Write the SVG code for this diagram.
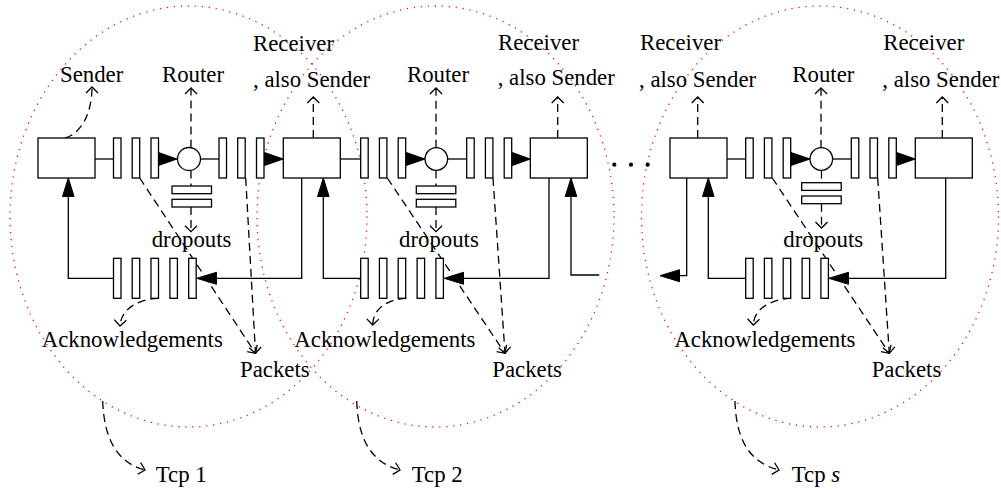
<svg xmlns="http://www.w3.org/2000/svg" width="1001" height="490" viewBox="0 0 1001 490">
  <defs>
    <style>
      .box { fill: #fff; stroke: #000; stroke-width: 1.3; }
      .slot { fill: #fff; stroke: #000; stroke-width: 1.3; }
      .ln { fill: none; stroke: #000; stroke-width: 1.3; }
      .dash { fill: none; stroke: #000; stroke-width: 1.3; stroke-dasharray: 8 5; marker-end: url(#open); }
      .dashplain { fill: none; stroke: #000; stroke-width: 1.3; stroke-dasharray: 8 5; }
      .head { fill: #000; stroke: #000; stroke-width: 1; }
      .scope { fill: none; stroke: #ff0000; stroke-width: 1.3; stroke-dasharray: 1.2 5.8; }
      text { font-family: "Liberation Serif", "Times New Roman", serif; font-size: 22.8px; fill: #000; }
    </style>
    <marker id="open" markerUnits="userSpaceOnUse" markerWidth="12" markerHeight="14" refX="8" refY="6" orient="auto" overflow="visible">
      <path d="M2,0 L8,6 L2,12" fill="none" stroke="#000" stroke-width="1.3" stroke-dasharray="none"/>
    </marker>
    <!-- queue of three slots, 40 high -->
    <g id="q3">
      <rect class="slot" x="0" y="0" width="7.5" height="40"/>
      <rect class="slot" x="18.7" y="0" width="7.5" height="40"/>
      <rect class="slot" x="37.5" y="0" width="7.5" height="40"/>
    </g>
    <!-- acknowledgement queue of five slots -->
    <g id="q5">
      <rect class="slot" x="0" y="0" width="7.5" height="40"/>
      <rect class="slot" x="18.7" y="0" width="7.5" height="40"/>
      <rect class="slot" x="37.5" y="0" width="7.5" height="40"/>
      <rect class="slot" x="56.4" y="0" width="7.5" height="40"/>
      <rect class="slot" x="75.2" y="0" width="7.5" height="40"/>
    </g>
    <!-- dropout buffer -->
    <g id="drop">
      <rect class="slot" x="0" y="0" width="39.5" height="7.7"/>
      <rect class="slot" x="0" y="13.3" width="39.5" height="7.7"/>
    </g>
  </defs>

  <rect x="0" y="0" width="1001" height="490" fill="#fff"/>

  <!-- TCP scopes -->
  <g id="scopes">
    <ellipse class="scope" cx="188.5" cy="216.5" rx="178.5" ry="210.5"/>
    <ellipse class="scope" cx="435.5" cy="216.5" rx="178.5" ry="210.5"/>
    <ellipse class="scope" cx="820" cy="216.5" rx="178.5" ry="210.5"/>
  </g>

  <!-- connectors -->
  <g id="connectors">
    <!-- forward path, first link -->
    <line class="ln" x1="95" y1="159" x2="113.7" y2="159"/>
    <path class="head" d="M158.5,152.5 L177,159 L158.5,165.5 Z"/>
    <line class="ln" x1="200.5" y1="159" x2="219" y2="159"/>
    <path class="head" d="M264.5,152.5 L283.3,159 L264.5,165.5 Z"/>
    <!-- forward path, second link -->
    <line class="ln" x1="340.3" y1="159" x2="360.7" y2="159"/>
    <path class="head" d="M406.3,152.5 L425,159 L406.3,165.5 Z"/>
    <line class="ln" x1="447.6" y1="159" x2="466.7" y2="159"/>
    <path class="head" d="M512.3,152.5 L530.3,159 L512.3,165.5 Z"/>
    <!-- forward path, last link -->
    <line class="ln" x1="727" y1="159" x2="745.7" y2="159"/>
    <path class="head" d="M791,152.5 L810,159 L791,165.5 Z"/>
    <line class="ln" x1="832.6" y1="159" x2="851.3" y2="159"/>
    <path class="head" d="M896.7,152.5 L915.3,159 L896.7,165.5 Z"/>

    <!-- acknowledgement returns -->
    <polyline class="ln" points="113.7,278.3 68.3,278.3 68.3,196"/>
    <path class="head" d="M62.5,196.5 L68.3,178 L74.1,196.5 Z"/>
    <polyline class="ln" points="301.7,178 301.7,278.3 216,278.3"/>
    <path class="head" d="M216.5,272.3 L196.7,278.3 L216.5,284.3 Z"/>

    <polyline class="ln" points="360.7,278.3 323.3,278.3 323.3,196"/>
    <path class="head" d="M317.5,196.5 L323.3,178 L329.1,196.5 Z"/>
    <polyline class="ln" points="549,178 549,278.3 463,278.3"/>
    <path class="head" d="M463.5,272.3 L444.3,278.3 L463.5,284.3 Z"/>

    <polyline class="ln" points="599.3,275 571,275 571,196"/>
    <path class="head" d="M565.2,196.5 L571,178 L576.8,196.5 Z"/>
    <polyline class="ln" points="686.7,178 686.7,275.7 679,275.7"/>
    <path class="head" d="M679.5,269.7 L660,275.7 L679.5,281.7 Z"/>

    <polyline class="ln" points="745.7,278.3 708.3,278.3 708.3,196"/>
    <path class="head" d="M702.5,196.5 L708.3,178 L714.1,196.5 Z"/>
    <polyline class="ln" points="945.7,178 945.7,278.3 848,278.3"/>
    <path class="head" d="M848.5,272.3 L828.7,278.3 L848.5,284.3 Z"/>

    <!-- label pointers -->
    <path class="dash" d="M65,138 C80,134 92,115 92,87"/>
    <path class="dash" d="M191,147.5 V88"/>
    <path class="dash" d="M436,147.7 V88"/>
    <path class="dash" d="M821,147.7 V88"/>
    <path class="dash" d="M313.3,138 V97"/>
    <path class="dash" d="M557.7,138 V97"/>
    <path class="dash" d="M697.7,138 V97"/>
    <path class="dash" d="M942.3,138 V97"/>

    <!-- dropouts -->
    <path class="dashplain" d="M191,170.5 V186"/>
    <path class="dash" d="M191,207 V231.7"/>
    <path class="dashplain" d="M436,170.5 V186"/>
    <path class="dash" d="M436,207 V231.7"/>
    <path class="dashplain" d="M821.5,170.5 V182.7"/>
    <path class="dash" d="M821.5,203.7 V228"/>

    <!-- packets -->
    <path class="dash" d="M139.7,178 L255.5,353.3"/>
    <path class="dash" d="M245.7,178 L255.5,353.3"/>
    <path class="dash" d="M387.3,178 L505,353.3"/>
    <path class="dash" d="M493,178 L505,353.3"/>
    <path class="dash" d="M772.3,178 L889.3,353.3"/>
    <path class="dash" d="M877.7,178 L889.3,353.3"/>

    <!-- acknowledgements -->
    <path class="dash" d="M158.3,298.3 C140,299 121,308 120,326"/>
    <path class="dash" d="M406.3,298.3 C390,299 373,307 372.7,325"/>
    <path class="dash" d="M791,298.3 C774,299 754,307 753.3,325"/>

    <!-- scope labels -->
    <path class="dash" d="M102.7,401 C104,440 118,463 145,470"/>
    <path class="dash" d="M356.7,401 C358,440 372,463 400,470"/>
    <path class="dash" d="M735,401 C736,440 750,463 779,470"/>
  </g>

  <!-- nodes -->
  <g id="sender">
    <rect class="box" x="38" y="138" width="57" height="40"/>
    <text x="60" y="82">Sender</text>
  </g>
  <g id="queue-1a"><use href="#q3" x="113.5" y="138"/></g>
  <g id="router-1">
    <circle class="box" cx="189" cy="159" r="11.5"/>
    <text x="162" y="82">Router</text>
  </g>
  <g id="drop-1"><use href="#drop" x="172" y="186"/><text x="151.7" y="247">dropouts</text></g>
  <g id="queue-1b"><use href="#q3" x="219" y="138"/></g>
  <g id="receiver-1">
    <rect class="box" x="283.3" y="138" width="57" height="40"/>
    <text x="253" y="50.7">Receiver</text>
    <text x="253" y="87">, also Sender</text>
  </g>
  <g id="acks-1">
    <use href="#q5" x="113.5" y="258.3"/>
    <text x="41.7" y="347">Acknowledgements</text>
  </g>
  <g id="packets-1"><text x="240" y="376.7">Packets</text></g>
  <g id="tcp-1"><text x="155.7" y="482">Tcp 1</text></g>

  <g id="queue-2a"><use href="#q3" x="360.7" y="138"/></g>
  <g id="router-2">
    <circle class="box" cx="436.3" cy="159" r="11.3"/>
    <text x="407" y="82">Router</text>
  </g>
  <g id="drop-2"><use href="#drop" x="416.3" y="186"/><text x="399" y="247">dropouts</text></g>
  <g id="queue-2b"><use href="#q3" x="466.7" y="138"/></g>
  <g id="receiver-2">
    <rect class="box" x="530.3" y="138" width="57" height="40"/>
    <text x="498" y="49.5">Receiver</text>
    <text x="497.7" y="84.5">, also Sender</text>
  </g>
  <g id="acks-2">
    <use href="#q5" x="360.7" y="258.3"/>
    <text x="294.3" y="347">Acknowledgements</text>
  </g>
  <g id="packets-2"><text x="492.3" y="376.7">Packets</text></g>
  <g id="tcp-2"><text x="411.7" y="482">Tcp 2</text></g>

  <g id="ellipsis">
    <circle cx="614.3" cy="164.7" r="2.1" fill="#000"/>
    <circle cx="631" cy="164.7" r="2.1" fill="#000"/>
    <circle cx="647.7" cy="164.7" r="2.1" fill="#000"/>
  </g>

  <g id="receiver-s0">
    <rect class="box" x="670" y="138" width="57" height="40"/>
    <text x="640" y="50">Receiver</text>
    <text x="639" y="86.5">, also Sender</text>
  </g>
  <g id="queue-sa"><use href="#q3" x="745.7" y="138"/></g>
  <g id="router-s">
    <circle class="box" cx="821.3" cy="159" r="11.3"/>
    <text x="792.3" y="81.7">Router</text>
  </g>
  <g id="drop-s"><use href="#drop" x="801.7" y="182.7"/><text x="783.3" y="247">dropouts</text></g>
  <g id="queue-sb"><use href="#q3" x="851.3" y="138"/></g>
  <g id="receiver-s">
    <rect class="box" x="915.3" y="138" width="57" height="40"/>
    <text x="883.3" y="50">Receiver</text>
    <text x="882.3" y="86.5">, also Sender</text>
  </g>
  <g id="acks-s">
    <use href="#q5" x="745.7" y="258.3"/>
    <text x="674.3" y="347">Acknowledgements</text>
  </g>
  <g id="packets-s"><text x="871.7" y="376.7">Packets</text></g>
  <g id="tcp-s"><text x="791.7" y="482">Tcp <tspan font-style="italic">s</tspan></text></g>
</svg>
